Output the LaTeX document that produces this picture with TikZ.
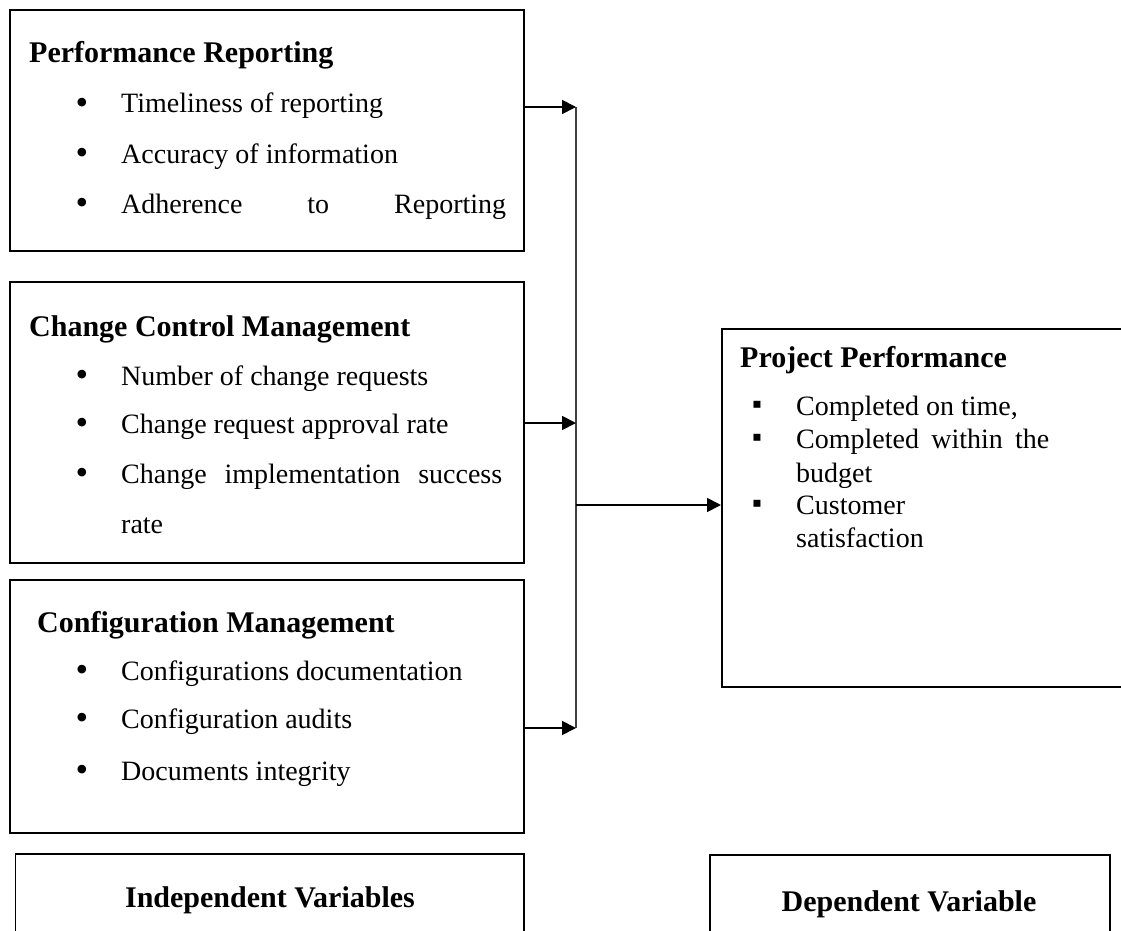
\documentclass[tikz,border=0pt]{standalone}
\usepackage{fontspec}
\setmainfont{Liberation Serif}
\usetikzlibrary{arrows.meta}
\begin{document}
\begin{tikzpicture}[x=1pt,y=-1pt,
  box/.style={draw, line width=1.8pt, inner sep=0pt, anchor=north west},
  txt/.style={anchor=base west, inner sep=0pt, font=\fontsize{28}{34}\selectfont},
  ttl/.style={anchor=base west, inner sep=0pt, font=\fontsize{30}{36}\selectfont\bfseries},
  ctl/.style={anchor=base, inner sep=0pt, font=\fontsize{30}{36}\selectfont\bfseries},
  bul/.style={anchor=center, inner sep=0pt, font=\fontsize{36}{40}\selectfont},
  sq/.style={anchor=center, inner sep=0pt, font=\fontsize{28}{34}\selectfont},
  conn/.style={line width=1.8pt, -{Triangle[length=14pt,width=14pt]}},
  vline/.style={line width=1.2pt, black!75},
]
\useasboundingbox (0,0) rectangle (1121,931);

% boxes
\node[box, minimum width=514pt, minimum height=241pt] (b1) at (9,9) {};
\node[box, minimum width=514pt, minimum height=281pt] (b2) at (9,281) {};
\node[box, minimum width=514pt, minimum height=253pt] (b3) at (9,579) {};
\node[box, minimum width=508.5pt, minimum height=110pt] (iv) at (14.5,853) {};
\node[box, minimum width=420pt, minimum height=358pt] (pp) at (721,328) {};
\node[box, minimum width=400pt, minimum height=110pt] (dv) at (709,854) {};

% box 1
\node[ttl] (t1) at (29,63) {Performance Reporting};
\node[bul] (b1a) at (82,106) {•};
\node[txt] (l1a) at (121,113) {Timeliness of reporting};
\node[bul] (b1b) at (82,156) {•};
\node[txt] (l1b) at (121,163) {Accuracy of information};
\node[bul] (b1c) at (82,206) {•};
\node[txt] (l1c) at (121,213) {\makebox[385pt][s]{Adherence to Reporting}};

% box 2
\node[ttl] (t2) at (29,336) {Change Control Management};
\node[bul] (b2a) at (82,378) {•};
\node[txt] (l2a) at (121,385) {Number of change requests};
\node[bul] (b2b) at (82,426) {•};
\node[txt] (l2b) at (121,433) {Change request approval rate};
\node[bul] (b2c) at (82,476) {•};
\node[txt] (l2c) at (121,483) {\makebox[381pt][s]{Change implementation success}};
\node[txt] (l2d) at (121,533) {rate};

% box 3
\node[ttl] (t3) at (37,632) {Configuration Management};
\node[bul] (b3a) at (82,673) {•};
\node[txt] (l3a) at (121,680) {Configurations documentation};
\node[bul] (b3b) at (82,721) {•};
\node[txt] (l3b) at (121,728) {Configuration audits};
\node[bul] (b3c) at (82,773) {•};
\node[txt] (l3c) at (121,780) {Documents integrity};

% project performance
\node[ttl] (tp) at (740,367) {Project Performance};
\node[sq] (bpa) at (757,407) {▪};
\node[txt] (lpa) at (796,415) {Completed on time,};
\node[sq] (bpb) at (757,440) {▪};
\node[txt] (lpb) at (796,448) {\makebox[253pt][s]{Completed within the}};
\node[txt] (lpc) at (796,482) {budget};
\node[sq] (bpd) at (757,506) {▪};
\node[txt] (lpd) at (796,514) {Customer};
\node[txt] (lpe) at (796,547) {satisfaction};

% bottom labels
\node[ctl] (ivt) at (270,907) {Independent Variables};
\node[ctl] (dvt) at (909,911) {Dependent Variable};

% connectors
\coordinate (v1) at (576,107);
\coordinate (v2) at (576,423);
\coordinate (v3) at (576,728);
\coordinate (vm) at (576,505);
\draw[vline] (v1) -- (v3);
\draw[conn] (b1.east |- v1) -- (v1);
\draw[conn] (b2.east |- v2) -- (v2);
\draw[conn] (b3.east |- v3) -- (v3);
\draw[conn] (vm) -- (pp.west |- vm);
\end{tikzpicture}
\end{document}
